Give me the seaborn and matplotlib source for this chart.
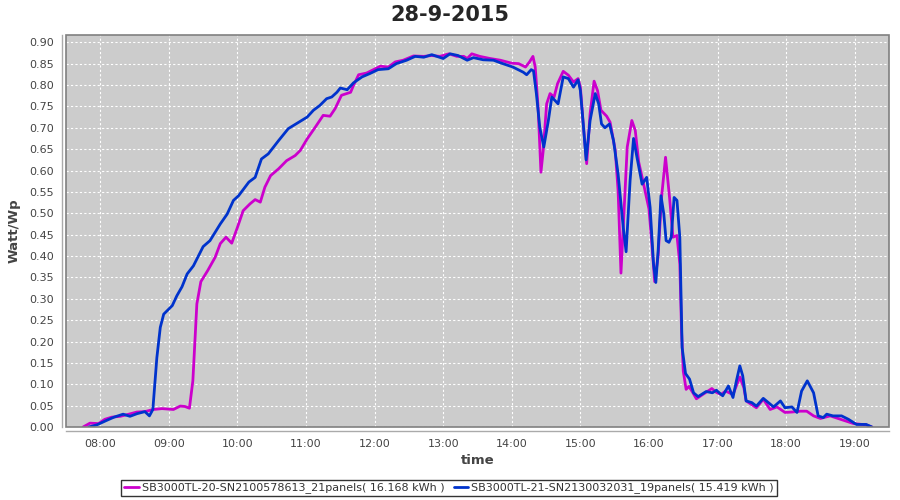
import matplotlib
matplotlib.use("Agg")
import matplotlib.pyplot as plt
import matplotlib.dates as mdates
import matplotlib.patches as mpatches
import numpy as np
import pandas as pd
import seaborn as sns

day = "2015-09-28"
label_a = "SB3000TL-20-SN2100578613_21panels( 16.168 kWh )"
label_b = "SB3000TL-21-SN2130032031_19panels( 15.419 kWh )"

times_a = ["07:45:00", "07:51:00", "07:58:30", "08:04:00", "08:10:00", "08:17:30", "08:25:00", "08:32:00",
           "08:39:00", "08:46:30", "08:54:00", "09:04:00", "09:10:00", "09:14:00", "09:18:00", "09:21:00",
           "09:24:30", "09:28:00", "09:34:00", "09:40:30", "09:45:00", "09:50:00", "09:55:00", "10:00:00",
           "10:05:00", "10:11:00", "10:15:30", "10:20:00", "10:24:00", "10:29:00", "10:36:00", "10:43:00",
           "10:50:30", "10:55:00", "11:01:00", "11:08:00", "11:15:00", "11:21:00", "11:25:30", "11:31:00",
           "11:39:00", "11:41:30", "11:46:00", "11:53:00", "11:59:00", "12:05:00", "12:12:00", "12:18:00",
           "12:25:00", "12:34:00", "12:43:00", "12:50:00", "12:57:00", "13:05:00", "13:12:00", "13:18:00",
           "13:21:00", "13:25:00", "13:32:00", "13:41:00", "13:50:00", "14:00:00", "14:06:00", "14:12:00",
           "14:15:30", "14:18:30", "14:20:30", "14:23:00", "14:25:30", "14:27:30", "14:30:30", "14:33:30",
           "14:37:00", "14:40:00", "14:45:00", "14:49:30", "14:54:00", "14:58:00", "15:00:00", "15:02:30",
           "15:05:30", "15:08:30", "15:12:00", "15:15:00", "15:18:00", "15:23:00", "15:26:00", "15:30:30",
           "15:33:00", "15:35:30", "15:37:30", "15:41:00", "15:45:00", "15:48:00", "15:51:00", "15:55:00",
           "16:00:00", "16:02:30", "16:05:00", "16:08:00", "16:11:00", "16:14:30", "16:18:00", "16:21:00",
           "16:24:30", "16:27:00", "16:28:30", "16:30:00", "16:32:30", "16:35:00", "16:38:00", "16:41:30",
           "16:47:00", "16:55:00", "16:59:00", "17:03:00", "17:07:00", "17:13:30", "17:19:30", "17:23:00",
           "17:25:00", "17:30:00", "17:34:00", "17:40:00", "17:46:00", "17:52:00", "17:59:00", "18:05:00",
           "18:12:30", "18:18:00", "18:24:00", "18:30:00", "18:38:30", "18:47:30", "18:59:00", "19:10:00",
           "19:15:00"]
watt_a = [0.000, 0.009, 0.008, 0.018, 0.023, 0.025, 0.030, 0.035,
          0.036, 0.041, 0.043, 0.041, 0.049, 0.048, 0.044, 0.108,
          0.288, 0.340, 0.366, 0.397, 0.429, 0.444, 0.430, 0.467,
          0.506, 0.522, 0.532, 0.526, 0.561, 0.588, 0.604, 0.623,
          0.635, 0.647, 0.674, 0.701, 0.729, 0.727, 0.745, 0.776,
          0.783, 0.799, 0.824, 0.828, 0.836, 0.844, 0.842, 0.854,
          0.858, 0.868, 0.867, 0.869, 0.867, 0.873, 0.867, 0.867,
          0.862, 0.873, 0.867, 0.862, 0.858, 0.851, 0.850, 0.842,
          0.854, 0.867, 0.842, 0.748, 0.596, 0.647, 0.756, 0.780,
          0.772, 0.803, 0.832, 0.823, 0.807, 0.815, 0.795, 0.709,
          0.616, 0.733, 0.809, 0.787, 0.741, 0.727, 0.713, 0.647,
          0.553, 0.360, 0.467, 0.655, 0.717, 0.694, 0.620, 0.572,
          0.510, 0.430, 0.340, 0.400, 0.537, 0.631, 0.537, 0.444,
          0.448, 0.381, 0.225, 0.131, 0.088, 0.095, 0.082, 0.066,
          0.076, 0.090, 0.081, 0.076, 0.084, 0.076, 0.117, 0.092,
          0.061, 0.052, 0.045, 0.065, 0.041, 0.047, 0.034, 0.035,
          0.037, 0.037, 0.026, 0.020, 0.026, 0.018, 0.008, 0.005,
          0.000]

times_b = ["07:50:00", "07:57:00", "08:06:00", "08:12:00", "08:20:00", "08:26:00", "08:32:00", "08:39:00",
           "08:43:00", "08:46:00", "08:49:30", "08:52:30", "08:55:30", "09:00:00", "09:03:00", "09:07:00",
           "09:11:30", "09:16:00", "09:21:30", "09:30:00", "09:36:00", "09:45:00", "09:51:00", "09:56:30",
           "10:01:00", "10:10:00", "10:15:30", "10:21:00", "10:27:00", "10:36:00", "10:44:30", "10:55:00",
           "11:01:00", "11:06:30", "11:12:00", "11:18:00", "11:22:30", "11:27:00", "11:30:00", "11:36:00",
           "11:41:30", "11:49:00", "11:56:00", "12:03:00", "12:12:00", "12:19:00", "12:28:00", "12:35:30",
           "12:43:00", "12:50:00", "13:00:00", "13:06:00", "13:13:00", "13:21:00", "13:26:30", "13:35:00",
           "13:44:00", "13:50:00", "14:01:00", "14:10:00", "14:13:00", "14:17:00", "14:19:00", "14:21:30",
           "14:24:30", "14:28:00", "14:32:00", "14:35:00", "14:37:00", "14:40:30", "14:45:00", "14:49:30",
           "14:54:00", "14:58:00", "15:00:00", "15:02:30", "15:05:00", "15:08:30", "15:13:00", "15:16:00",
           "15:18:30", "15:21:30", "15:25:30", "15:29:00", "15:33:00", "15:37:30", "15:40:00", "15:43:30",
           "15:46:30", "15:49:30", "15:54:00", "15:58:00", "16:01:00", "16:04:00", "16:06:00", "16:08:00",
           "16:10:30", "16:13:00", "16:15:00", "16:17:30", "16:19:30", "16:22:00", "16:24:30", "16:27:00",
           "16:29:00", "16:32:00", "16:35:30", "16:39:00", "16:43:00", "16:50:00", "16:55:30", "16:59:00",
           "17:04:30", "17:09:30", "17:13:30", "17:16:30", "17:19:30", "17:22:00", "17:25:00", "17:30:00",
           "17:34:00", "17:40:00", "17:44:30", "17:49:00", "17:55:00", "17:59:00", "18:05:00", "18:09:30",
           "18:13:30", "18:18:30", "18:24:00", "18:28:00", "18:32:30", "18:35:30", "18:41:00", "18:48:30",
           "18:54:30", "19:01:30", "19:10:00", "19:15:00"]
watt_b = [0.000, 0.005, 0.016, 0.023, 0.030, 0.025, 0.031, 0.036,
          0.026, 0.041, 0.162, 0.233, 0.264, 0.276, 0.284, 0.307,
          0.328, 0.358, 0.377, 0.422, 0.436, 0.475, 0.498, 0.530,
          0.541, 0.573, 0.584, 0.627, 0.639, 0.670, 0.698, 0.715,
          0.725, 0.741, 0.752, 0.768, 0.772, 0.783, 0.793, 0.789,
          0.805, 0.819, 0.827, 0.836, 0.838, 0.850, 0.858, 0.867,
          0.865, 0.871, 0.862, 0.873, 0.869, 0.858, 0.864, 0.859,
          0.858, 0.852, 0.842, 0.830, 0.824, 0.836, 0.833, 0.780,
          0.701, 0.655, 0.717, 0.772, 0.766, 0.756, 0.819, 0.815,
          0.795, 0.812, 0.787, 0.709, 0.625, 0.717, 0.780, 0.756,
          0.709, 0.700, 0.709, 0.670, 0.592, 0.467, 0.410, 0.577,
          0.675, 0.631, 0.568, 0.584, 0.514, 0.381, 0.338, 0.412,
          0.541, 0.498, 0.436, 0.432, 0.444, 0.537, 0.530, 0.444,
          0.186, 0.125, 0.112, 0.080, 0.071, 0.083, 0.080, 0.086,
          0.073, 0.096, 0.069, 0.108, 0.143, 0.120, 0.061, 0.057,
          0.049, 0.067, 0.057, 0.047, 0.061, 0.045, 0.047, 0.034,
          0.084, 0.108, 0.080, 0.026, 0.022, 0.030, 0.026, 0.026,
          0.018, 0.006, 0.006, 0.000]

df = pd.concat([
    pd.DataFrame({"time": pd.to_datetime([day + " " + t for t in times_a]), "watt": watt_a, "inverter": label_a}),
    pd.DataFrame({"time": pd.to_datetime([day + " " + t for t in times_b]), "watt": watt_b, "inverter": label_b}),
])

sns.set_style("white")
plt.rcParams["font.family"] = ["DejaVu Sans"]

fig = plt.figure(figsize=(9, 5), dpi=100)
ax = fig.add_axes([0.0733, 0.146, 0.9145, 0.784])
ax.set_facecolor("#cccccc")

sns.lineplot(data=df, x="time", y="watt", hue="inverter", estimator=None, sort=False,
             palette={label_a: "#cc00cc", label_b: "#0033cc"}, linewidth=2, ax=ax)
for ln in ax.get_lines():
    ln.set_solid_joinstyle("round")
    ln.set_solid_capstyle("round")

ax.set_xlim(pd.Timestamp(day + " 07:30"), pd.Timestamp(day + " 19:30"))
ax.set_ylim(0, 0.917)
ax.set_yticks(np.arange(0, 0.91, 0.05))
ax.yaxis.set_major_formatter(matplotlib.ticker.FormatStrFormatter("%.2f"))
ax.xaxis.set_major_locator(mdates.HourLocator())
ax.xaxis.set_major_formatter(mdates.DateFormatter("%H:%M"))

ax.grid(True, color="white", linestyle=(0, (2, 2)), linewidth=0.8)
ax.tick_params(axis="both", labelsize=8, labelcolor="#444444", color="#999999", length=2, width=0.8)
for side in ["top", "right"]:
    ax.spines[side].set_visible(False)
for side in ["left", "bottom"]:
    ax.spines[side].set_position(("outward", 3))
    ax.spines[side].set_color("#aaaaaa")
    ax.spines[side].set_linewidth(1)
ax.add_patch(mpatches.Rectangle((0, 0), 1, 1, transform=ax.transAxes, fill=False,
                                edgecolor="#808080", linewidth=1.2, clip_on=False, zorder=5))

ax.set_xlabel("time", fontsize=9.5, fontweight="bold", color="#444444", labelpad=4)
ax.set_ylabel("Watt/Wp", fontsize=9.5, fontweight="bold", color="#444444", labelpad=6)
fig.suptitle("28-9-2015", fontsize=15, fontweight="bold", y=0.99)

handles, labels = ax.get_legend_handles_labels()
ax.get_legend().remove()
leg = fig.legend(handles, labels, loc="center", bbox_to_anchor=(0.499, 0.024), ncol=2, fontsize=8,
                 frameon=True, fancybox=False, edgecolor="black", handlelength=1.3, handletextpad=0.3,
                 columnspacing=0.8, borderpad=0.25)
leg.get_frame().set_linewidth(1)
for t in leg.get_texts():
    t.set_color("#333333")

fig.savefig("out.png", dpi=100)
